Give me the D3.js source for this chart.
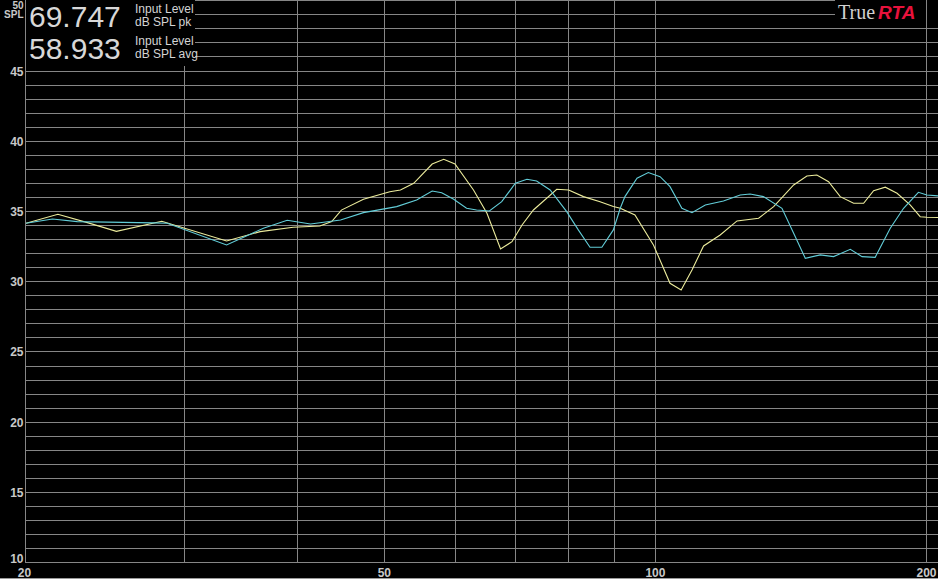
<!DOCTYPE html>
<html>
<head>
<meta charset="utf-8">
<script src="https://cdn.jsdelivr.net/npm/d3@7"></script>
<style>
html,body{margin:0;padding:0;background:#000;}
svg{display:block;}
</style>
</head>
<body>
<svg id="chart" width="938" height="579"></svg>
<script>
// ---- data ----
const yellowFreq = [20,21.7,23.4,25.2,28.3,33.4,36.4,39.6,42.4,43.7,44.8,47.4,50.7,52.1,53.9,56.5,58.2,59.9,62.8,65.0,67.3,69.3,71.1,73.2,77.7,80.1,83.2,86.8,89.8,91.4,94.9,99.5,103.8,106.8,109.8,113.1,118.0,123.2,130.2,135.3,142.4,147.3,151.1,155.7,160.4,166.0,170.3,174.7,180.0,185.5,191.8,196.8,200.2,206];
const yellowDb = [34.16,34.80,34.21,33.59,34.31,32.90,33.57,33.88,33.97,34.28,35.10,35.87,36.41,36.53,37.01,38.38,38.72,38.38,36.53,34.88,32.33,32.85,34.04,35.11,36.58,36.53,36.06,35.70,35.35,35.23,34.75,32.62,29.89,29.42,30.84,32.55,33.33,34.33,34.52,35.35,36.89,37.53,37.60,37.12,36.06,35.59,35.59,36.48,36.73,36.30,35.47,34.63,34.59,34.57];
const cyanFreq = [20,21.4,22.8,27.7,28.7,33.4,36.7,39.0,41.4,44.7,47.4,51.6,54.3,56.5,57.9,59.7,61.7,63.3,65.4,67.5,69.9,72.0,73.8,76.4,79.7,82.1,84.6,87.2,89.8,91.4,92.5,95.4,98.2,101.2,103.8,107.0,109.8,113.6,119.0,124.2,127.4,131.8,138.2,142.4,146.7,152.4,157.7,164.6,169.6,175.4,182.3,188.6,195.9,200.2,206];
const cyanDb = [34.16,34.47,34.28,34.19,34.16,32.62,33.81,34.38,34.11,34.40,34.92,35.35,35.82,36.46,36.34,35.87,35.23,35.11,35.04,35.70,37.01,37.30,37.17,36.53,34.99,33.69,32.46,32.46,33.69,35.23,36.06,37.37,37.77,37.48,36.77,35.23,34.92,35.47,35.75,36.18,36.25,36.06,35.23,33.45,31.67,31.91,31.79,32.31,31.79,31.74,33.81,35.23,36.37,36.18,36.11];
const xTickLabels = [20, 50, 100, 200];
const xGridFreqs = [30, 40, 50, 60, 70, 80, 90, 100, 200];
const yTickLabels = [10, 15, 20, 25, 30, 35, 40, 45, 50];
const yGridDb = d3.range(10, 51, 1);
const readouts = [
  {value: "69.747", line1: "Input Level", line2: "dB SPL pk"},
  {value: "58.933", line1: "Input Level", line2: "dB SPL avg"}
];

// ---- layout ----
(function () {
const W = 938, H = 579;
const pLeft = 26, pRight = 938, pTop = 0.8, pBottom = 562.7;
const x = d3.scaleLog().domain([20, 200]).range([26, 926.5]);
const y = d3.scaleLinear().domain([10, 50]).range([pBottom, pTop]);
const gridColor = "#868686";
const labelColor = "#c8c8c8";
const narrow = "'Liberation Sans Narrow','Arial Narrow','Liberation Sans',Arial,sans-serif";

const svg = d3.select("#chart");
svg.append("rect").attr("width", W).attr("height", H).attr("fill", "#000");

const grid = svg.append("g").attr("shape-rendering", "crispEdges");
grid.selectAll("line.h").data(yGridDb).enter().append("line")
  .attr("x1", pLeft - 1).attr("x2", pRight)
  .attr("y1", d => Math.floor(y(d)) + 0.5).attr("y2", d => Math.floor(y(d)) + 0.5)
  .attr("stroke", gridColor).attr("stroke-width", 1);
grid.selectAll("line.v").data(xGridFreqs).enter().append("line")
  .attr("x1", d => Math.floor(x(d)) + 0.5).attr("x2", d => Math.floor(x(d)) + 0.5)
  .attr("y1", 0).attr("y2", Math.floor(pBottom) + 1)
  .attr("stroke", gridColor).attr("stroke-width", 1);
grid.append("line")
  .attr("x1", Math.floor(x(20)) - 0.5).attr("x2", Math.floor(x(20)) - 0.5)
  .attr("y1", 0).attr("y2", Math.floor(pBottom) + 1)
  .attr("stroke", gridColor);

// curves
svg.append("clipPath").attr("id", "plotclip")
  .append("rect").attr("x", pLeft).attr("y", 0).attr("width", pRight - pLeft).attr("height", pBottom);
const line = d3.line().x(d => x(d[0])).y(d => y(d[1]));
const curves = svg.append("g").attr("clip-path", "url(#plotclip)");
curves.append("path").datum(yellowFreq.map((f, i) => [f, yellowDb[i]]))
  .attr("d", line).attr("fill", "none").attr("stroke", "#ecec9c").attr("stroke-width", 1.1);
curves.append("path").datum(cyanFreq.map((f, i) => [f, cyanDb[i]]))
  .attr("d", line).attr("fill", "none").attr("stroke", "#62cdd8").attr("stroke-width", 1.1);

// readout block
svg.append("rect").attr("x", pLeft).attr("y", 0).attr("width", 169).attr("height", 66).attr("fill", "#000");
const ro = svg.append("g");
readouts.forEach((r, i) => {
  const base = 27 + i * 32;
  ro.append("text").attr("x", 29).attr("y", base)
    .attr("font-family", "'Liberation Sans',Arial,sans-serif").attr("font-size", 30)
    .attr("fill", "#d8d8d8").text(r.value);
  ro.append("text").attr("x", 135).attr("y", base - 14)
    .attr("font-family", "'Liberation Sans',Arial,sans-serif").attr("font-size", 12)
    .attr("fill", "#d4d4d4").text(r.line1);
  ro.append("text").attr("x", 135).attr("y", base - 1)
    .attr("font-family", "'Liberation Sans',Arial,sans-serif").attr("font-size", 12)
    .attr("fill", "#d4d4d4").text(r.line2);
});

// logo
svg.append("rect").attr("x", 835).attr("y", 0).attr("width", 103).attr("height", 22).attr("fill", "#000");
svg.append("line").attr("shape-rendering", "crispEdges")
  .attr("x1", Math.floor(x(200)) + 0.5).attr("x2", Math.floor(x(200)) + 0.5)
  .attr("y1", 0).attr("y2", 22).attr("stroke", gridColor);
const logo = svg.append("text").attr("x", 838).attr("y", 19);
logo.append("tspan").attr("font-family", "'Liberation Serif','Times New Roman',serif")
  .attr("font-size", 20).attr("fill", "#d0d0d0").text("True");
logo.append("tspan").attr("dx", 3).attr("font-family", "'Liberation Sans',Arial,sans-serif")
  .attr("font-size", 19).attr("font-weight", "bold").attr("font-style", "italic")
  .attr("fill", "#e8123c").text("RTA");

// y labels
const yl = svg.append("g").attr("font-family", narrow).attr("font-weight", "bold")
  .attr("font-size", 12).attr("fill", labelColor).attr("text-anchor", "end");
yl.selectAll("text").data(yTickLabels).enter().append("text")
  .attr("x", 23.5)
  .attr("y", d => d === 50 ? 8.5 : (d === 10 ? y(d) + 0.5 : y(d) + 4.5))
  .attr("font-size", d => d === 50 ? 10 : 12)
  .text(d => d);
yl.append("text").attr("x", 23.5).attr("y", 18).attr("font-size", 10).text("SPL");

// x labels
svg.append("g").attr("font-family", narrow).attr("font-weight", "bold")
  .attr("font-size", 12).attr("fill", labelColor).attr("text-anchor", "middle")
  .selectAll("text").data(xTickLabels).enter().append("text")
  .attr("x", d => d === 20 ? x(d) - 1.5 : x(d))
  .attr("y", 577)
  .text(d => d);

// bottom border line
svg.append("line").attr("shape-rendering", "crispEdges")
  .attr("x1", 0).attr("x2", W).attr("y1", 578.5).attr("y2", 578.5)
  .attr("stroke", "#9a9a9a");
})();
</script>
</body>
</html>
